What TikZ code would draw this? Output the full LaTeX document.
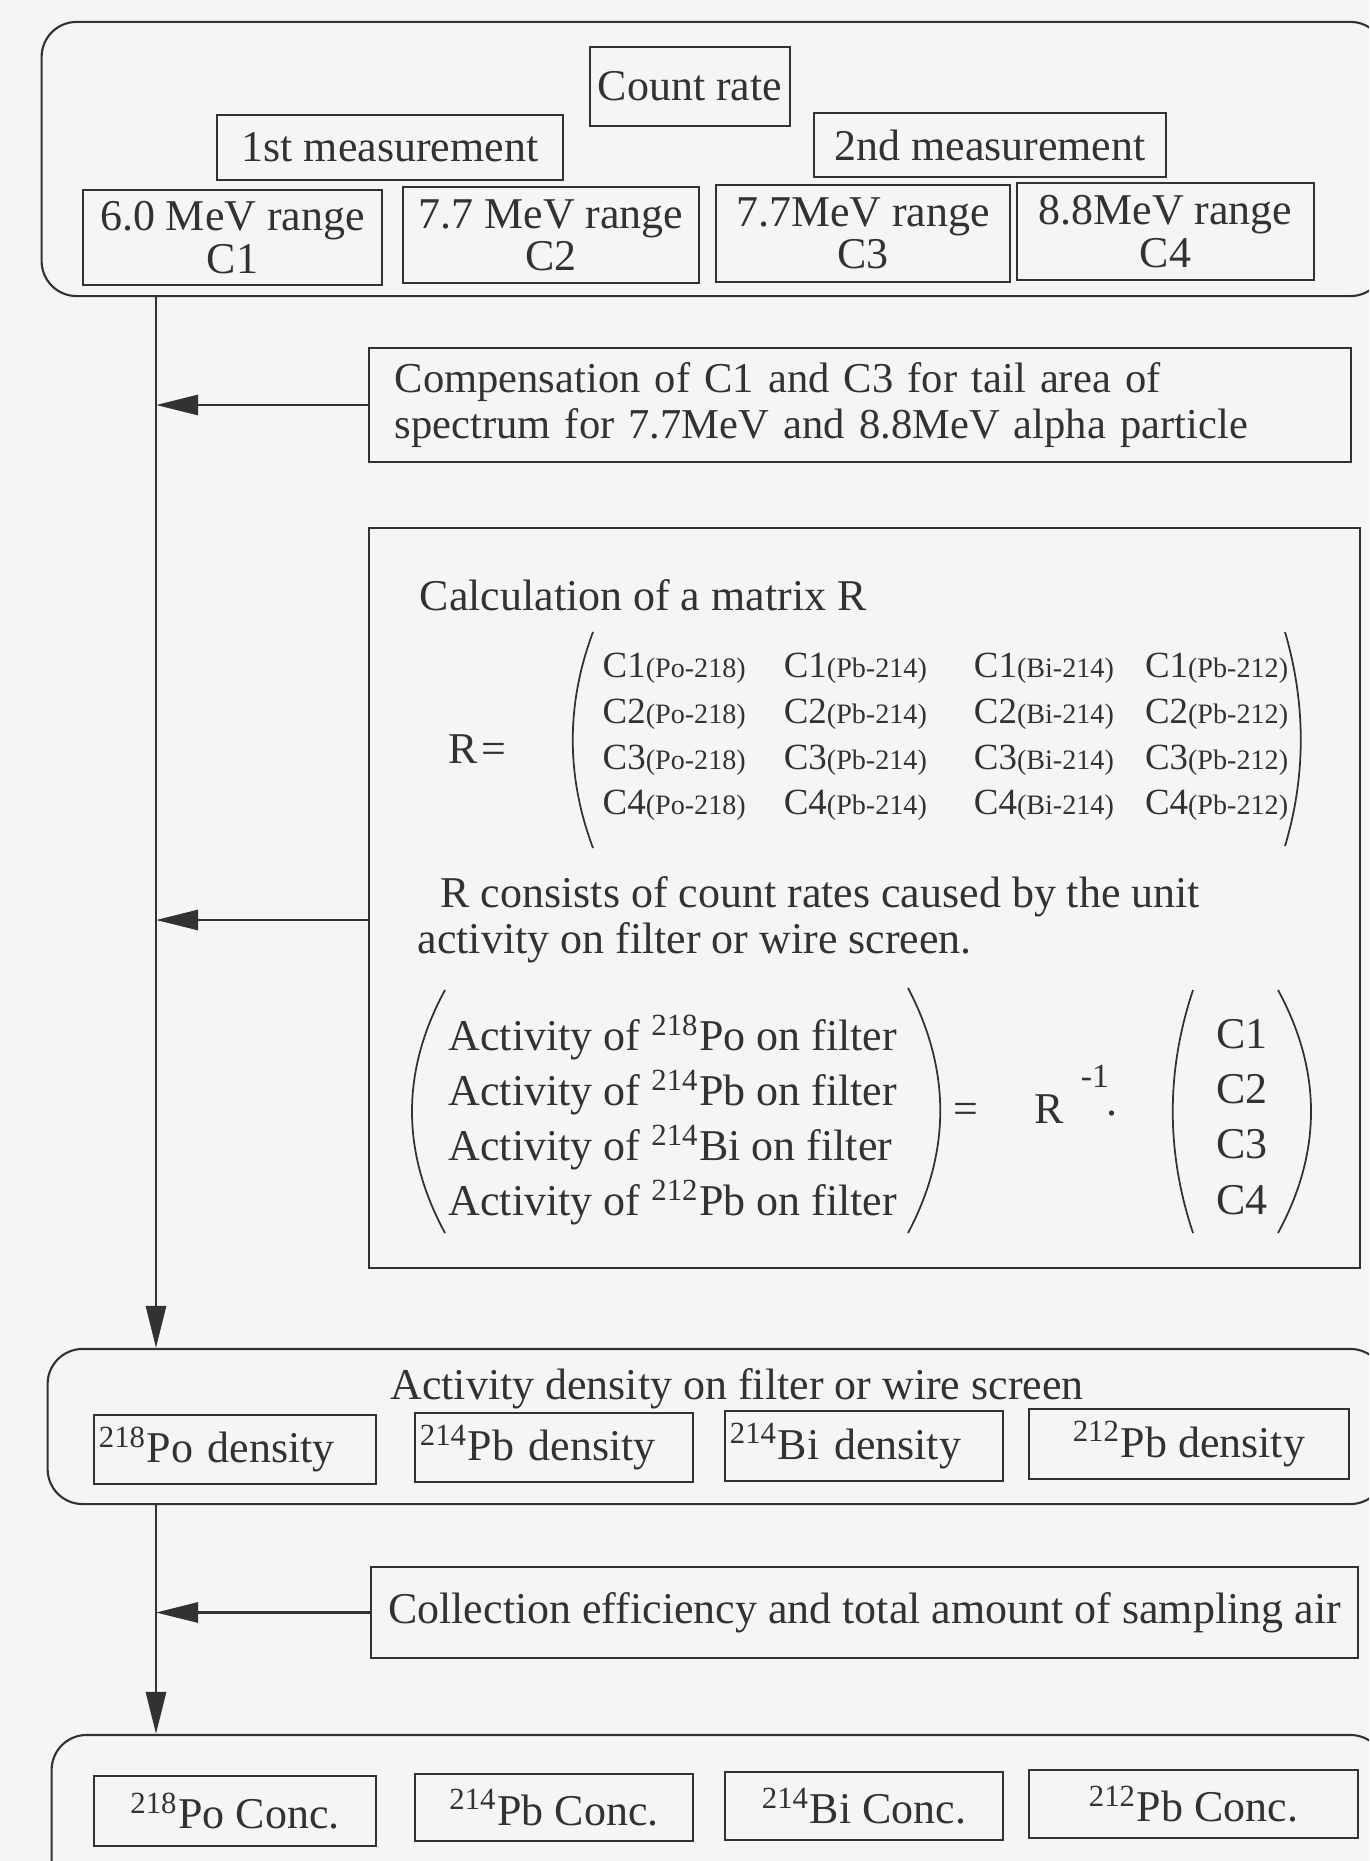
\documentclass[tikz,border=0pt]{standalone}
\usepackage{fontspec}
\setmainfont{Liberation Serif}
\usepackage{xcolor}
\usetikzlibrary{arrows.meta}
\definecolor{paper}{RGB}{245,245,243}
\definecolor{ink}{RGB}{50,50,50}
\newcommand{\Rentry}[2]{C#1{\fontsize{8}{9}\selectfont(#2)}}

\begin{document}
\begin{tikzpicture}[x=0.01cm, y=-0.01cm, color=ink,
    >={Triangle[length=4.2mm,width=2mm]},
    box/.style={draw=ink, line width=0.6pt, inner sep=0pt, align=center,
        font=\fontsize{12.5}{12}\selectfont},
    leftbox/.style={box, align=left, inner xsep=0.05cm},
    outer/.style={box, rounded corners=3.5mm},
    txt/.style={inner sep=0pt, font=\fontsize{12.5}{13}\selectfont},
    flow/.style={->, draw=ink, line width=0.8pt},
    paren/.style={draw=ink, line width=0.5pt}]

    \useasboundingbox (0,0) rectangle (1369,1861);
    \fill[paper] (0,0) rectangle (1369,1861);
    \clip (0,0) rectangle (1369,1861);

    % Count rates
    \node[outer, minimum width=13.43cm, minimum height=2.74cm] (top) at (713.5,159) {};
    \node[box, minimum width=2cm, minimum height=0.79cm] (rate) at (690,86.5) {Count rate};
    \node[box, minimum width=3.46cm, minimum height=0.65cm] (meas1) at (390,147.5) {1st measurement};
    \node[box, minimum width=3.52cm, minimum height=0.64cm] (meas2) at (990,145) {2nd measurement};
    \node[box, minimum width=2.99cm, minimum height=0.95cm] (rng1) at (232.5,237.5) {6.0 MeV range\\C1};
    \node[box, minimum width=2.96cm, minimum height=0.96cm] (rng2) at (551,235) {7.7 MeV range\\C2};
    \node[box, minimum width=2.94cm, minimum height=0.97cm] (rng3) at (863,233.5) {7.7MeV range\\C3};
    \node[box, minimum width=2.97cm, minimum height=0.97cm] (rng4) at (1165.5,231.5) {8.8MeV range\\C4};

    % Main flow line
    \coordinate (trunk) at (156,0);

    % Tail compensation
    \node[box, minimum width=9.82cm, minimum height=1.14cm, align=left,
        text width=9.3cm, inner xsep=0.26cm, font=\fontsize{12.1}{13.1}\selectfont]
        (comp) at (860,405)
        {Compensation of C1 and C3 for tail area of\\spectrum for 7.7MeV and 8.8MeV alpha particle};

    % Matrix calculation
    \node[box, minimum width=9.91cm, minimum height=7.4cm] (calc) at (864.5,898) {};
    \node[txt, anchor=base west] (calctitle) at (419,610) {Calculation of a matrix R};
    \node[txt, anchor=base west] (req) at (448,763) {R\hspace{1pt}=};
    \node[inner sep=0pt, anchor=west, align=left, font=\fontsize{10.5}{12.95}\selectfont] (rmat) at (602,737)
        {\makebox[1.81cm][l]{\Rentry{1}{Po-218}}\makebox[1.9cm][l]{\Rentry{1}{Pb-214}}\makebox[1.71cm][l]{\Rentry{1}{Bi-214}}\Rentry{1}{Pb-212}\\
         \makebox[1.81cm][l]{\Rentry{2}{Po-218}}\makebox[1.9cm][l]{\Rentry{2}{Pb-214}}\makebox[1.71cm][l]{\Rentry{2}{Bi-214}}\Rentry{2}{Pb-212}\\
         \makebox[1.81cm][l]{\Rentry{3}{Po-218}}\makebox[1.9cm][l]{\Rentry{3}{Pb-214}}\makebox[1.71cm][l]{\Rentry{3}{Bi-214}}\Rentry{3}{Pb-212}\\
         \makebox[1.81cm][l]{\Rentry{4}{Po-218}}\makebox[1.9cm][l]{\Rentry{4}{Pb-214}}\makebox[1.71cm][l]{\Rentry{4}{Bi-214}}\Rentry{4}{Pb-212}};
    \draw[paren] (593,632) .. controls (566,704) and (566,776) .. (593,848);
    \draw[paren] (1285,632) .. controls (1306,704) and (1306,776) .. (1285,846);

    \node[txt, anchor=west, align=left] (rnote) at (417,920)
        {\hspace*{0.23cm}R consists of count rates caused by the unit\\activity on filter or wire screen.};

    \node[inner sep=0pt, anchor=west, align=left, font=\fontsize{12.5}{15.7}\selectfont] (act) at (448,1120)
        {Activity of \textsuperscript{218}Po on filter\\
         Activity of \textsuperscript{214}Pb on filter\\
         Activity of \textsuperscript{214}Bi on filter\\
         Activity of \textsuperscript{212}Pb on filter};
    \draw[paren] (445,990) .. controls (401,1071) and (401,1152) .. (445,1233);
    \draw[paren] (908,988) .. controls (951,1070) and (951,1152) .. (908,1233);

    \node[txt, anchor=base west] (rinv) at (953,1123)
        {=\hspace{16pt}R\hspace{4.8pt}\raisebox{10pt}{\fontsize{9.6}{10}\selectfont -1}\hspace{-0.6pt}\raisebox{2.2pt}{.}};

    \node[inner sep=0pt, align=center, font=\fontsize{12.5}{15.7}\selectfont] (cvec) at (1242,1117)
        {C1\\C2\\C3\\C4};
    \draw[paren] (1193,990) .. controls (1166,1071) and (1166,1152) .. (1193,1233);
    \draw[paren] (1278,990) .. controls (1322,1071) and (1322,1152) .. (1278,1233);

    % Activity density
    \node[outer, minimum width=13.37cm, minimum height=1.55cm] (dens) at (716.5,1426.5) {};
    \node[txt, anchor=base] (denstitle) at (737,1399) {Activity density on filter or wire screen};
    \node[leftbox, minimum width=2.82cm, text width=2.72cm, minimum height=0.69cm] (dpo218) at (235,1449.5) {\textsuperscript{218}Po density};
    \node[leftbox, minimum width=2.78cm, text width=2.68cm, minimum height=0.69cm] (dpb214) at (554,1447.5) {\textsuperscript{214}Pb density};
    \node[leftbox, minimum width=2.78cm, text width=2.68cm, minimum height=0.7cm] (dbi214) at (864,1446) {\textsuperscript{214}Bi density};
    \node[box, minimum width=3.2cm, minimum height=0.7cm] (dpb212) at (1189,1444) {\textsuperscript{212}Pb density};

    % Sampling air
    \node[box, minimum width=9.87cm, minimum height=0.91cm] (coll) at (864.5,1612.5)
        {Collection efficiency and total amount of sampling air};

    % Concentrations
    \node[outer, minimum width=13.33cm, minimum height=1.65cm] (conc) at (718.5,1817.5) {};
    \node[box, minimum width=2.82cm, minimum height=0.7cm] (cpo218) at (235,1811) {\textsuperscript{218}Po Conc.};
    \node[box, minimum width=2.78cm, minimum height=0.67cm] (cpb214) at (554,1807.5) {\textsuperscript{214}Pb Conc.};
    \node[box, minimum width=2.78cm, minimum height=0.68cm] (cbi214) at (864,1806) {\textsuperscript{214}Bi Conc.};
    \node[box, minimum width=3.29cm, minimum height=0.68cm] (cpb212) at (1193.5,1804) {\textsuperscript{212}Pb Conc.};

    % Arrows
    \draw[flow] (top.south -| trunk) -- (dens.north -| trunk);
    \draw[flow] (dens.south -| trunk) -- (conc.north -| trunk);
    \draw[flow] (comp.west) -- (comp.west -| trunk);
    \draw[flow] (calc.west |- rnote) -- (trunk |- rnote);
    \draw[flow] (coll.west) -- (coll.west -| trunk);
\end{tikzpicture}
\end{document}
